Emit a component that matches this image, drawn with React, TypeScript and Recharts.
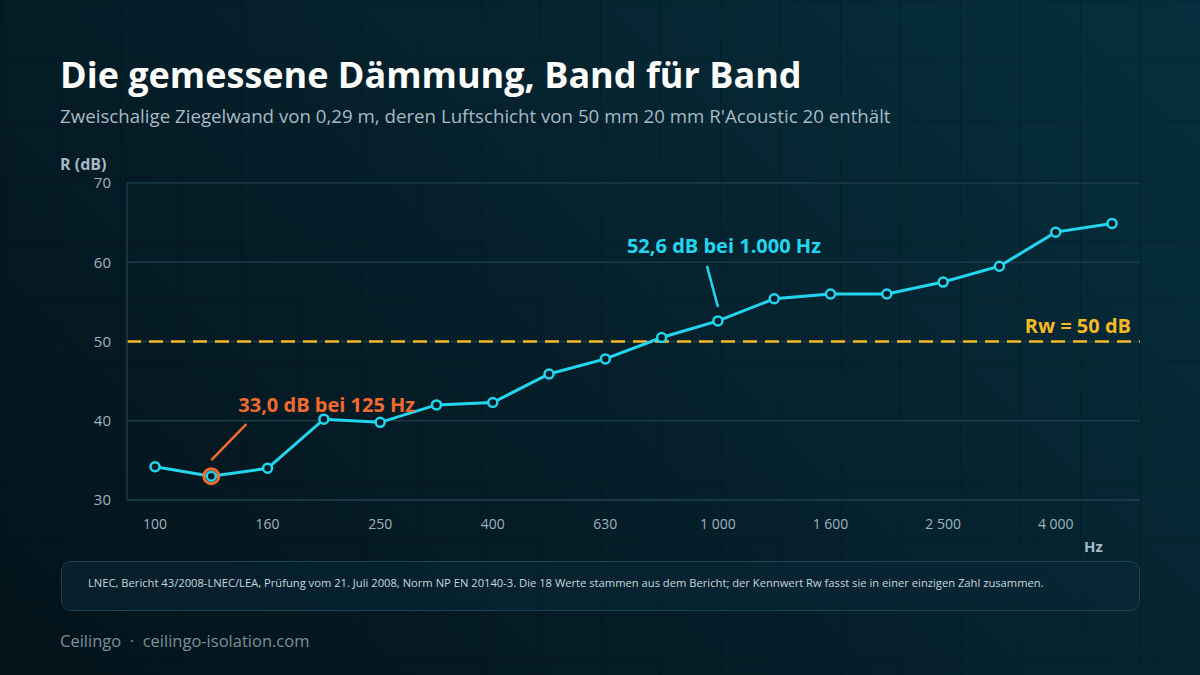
import React from 'react'
import {
  LineChart,
  Line,
  XAxis,
  YAxis,
  CartesianGrid,
  ReferenceLine,
} from 'recharts'

const bands = [
  '100', '125', '160', '200', '250', '315', '400', '500', '630',
  '800', '1 000', '1 250', '1 600', '2 000', '2 500', '3 150', '4 000', '5 000',
]
// measured sound reduction index R per band (dB)
const rValues = [
  34.2, 33.0, 34.0, 40.2, 39.8, 42.0, 42.3, 45.9, 47.8,
  50.5, 52.6, 55.4, 56.0, 56.0, 57.5, 59.5, 63.8, 64.9,
]
const yTicks = [30, 40, 50, 60, 70]
const rw = 50

const notes = [
  { index: 1, text: '33,0 dB bei 125 Hz' },
  { index: 10, text: '52,6 dB bei 1.000 Hz' },
]

const COLORS = {
  line: '#22d6ef',
  dotFill: '#061d27',
  rw: '#f4b828',
  grid: '#1a3b4a',
  tick: '#9fb3bf',
  orange: '#f06b2d',
}

const FONT = '"Open Sans", "Noto Sans", sans-serif'

const data = bands.map((band, i) => ({ band, r: rValues[i] }))

interface DotProps {
  cx?: number
  cy?: number
  index?: number
}

const renderDot = ({ cx = 0, cy = 0, index = 0 }: DotProps) => {
  const base = (
    <circle cx={cx} cy={cy} r={4.5} fill={COLORS.dotFill} stroke={COLORS.line} strokeWidth={2.5} />
  )
  if (index === notes[0].index) {
    return (
      <g key={`dot-${index}`}>
        <line x1={cx} y1={cy - 16} x2={cx + 35} y2={cy - 52} stroke={COLORS.orange} strokeWidth={2.5} />
        <text x={cx + 27} y={cy - 64} fill={COLORS.orange} fontSize={20} fontWeight={700} fontFamily={FONT}>
          {notes[0].text}
        </text>
        <circle cx={cx} cy={cy} r={7.5} fill="none" stroke={COLORS.orange} strokeWidth={3} />
        {base}
      </g>
    )
  }
  if (index === notes[1].index) {
    return (
      <g key={`dot-${index}`}>
        <line x1={cx - 11} y1={cy - 55} x2={cx} y2={cy - 14} stroke={COLORS.line} strokeWidth={2.5} />
        <text x={cx - 91} y={cy - 68} fill={COLORS.line} fontSize={20} fontWeight={700} fontFamily={FONT}>
          {notes[1].text}
        </text>
        {base}
      </g>
    )
  }
  return <g key={`dot-${index}`}>{base}</g>
}

interface RefLabelProps {
  viewBox?: { x?: number; y?: number; width?: number }
}

const RwLabel = ({ viewBox }: RefLabelProps) => {
  const x = (viewBox?.x ?? 0) + (viewBox?.width ?? 0) - 9
  const y = (viewBox?.y ?? 0) - 9
  return (
    <text x={x} y={y} textAnchor="end" fill={COLORS.rw} fontSize={20} fontWeight={700} fontFamily={FONT}>
      {`Rw = ${rw} dB`}
    </text>
  )
}

export default function App() {
  return (
    <div
      style={{
        position: 'fixed',
        left: 0,
        top: 0,
        width: 1200,
        height: 675,
        overflow: 'hidden',
        fontFamily: FONT,
        backgroundColor: '#05202b',
        backgroundImage:
          'linear-gradient(rgba(0,0,0,0.16) 1px, transparent 1px), linear-gradient(90deg, rgba(0,0,0,0.16) 1px, transparent 1px), linear-gradient(45deg, #03131a 0%, #05202b 50%, #052f3e 100%)',
        backgroundSize: '60px 60px, 60px 60px, 100% 100%',
      }}
    >
      <div style={{ position: 'absolute', left: 60, top: 50, color: '#ffffff', fontSize: 36, fontWeight: 700, whiteSpace: 'nowrap' }}>
        Die gemessene Dämmung, Band für Band
      </div>
      <div style={{ position: 'absolute', left: 60, top: 103, color: '#a6bac6', fontSize: 18.7, whiteSpace: 'nowrap' }}>
        Zweischalige Ziegelwand von 0,29 m, deren Luftschicht von 50 mm 20 mm R'Acoustic 20 enthält
      </div>
      <div style={{ position: 'absolute', left: 60, top: 153, color: '#a6bac6', fontSize: 16, fontWeight: 700 }}>
        R (dB)
      </div>
      <div style={{ position: 'absolute', left: 1084, top: 536, color: '#a6bac6', fontSize: 15, fontWeight: 700 }}>
        Hz
      </div>

      <div style={{ position: 'absolute', left: 0, top: 0 }}>
        <LineChart
          width={1200}
          height={675}
          data={data}
          margin={{ top: 183, right: 60, bottom: 145, left: 0 }}
        >
          <CartesianGrid vertical={false} stroke={COLORS.grid} strokeWidth={1.5} />
          <XAxis
            dataKey="band"
            height={30}
            interval={1}
            padding={{ left: 28, right: 28 }}
            tickLine={false}
            axisLine={{ stroke: COLORS.grid, strokeWidth: 1.5 }}
            tick={{ fill: COLORS.tick, fontSize: 14, fontFamily: FONT }}
            tickMargin={13}
          />
          <YAxis
            width={127}
            domain={[30, 70]}
            ticks={yTicks}
            tickLine={false}
            axisLine={{ stroke: COLORS.grid, strokeWidth: 1.5 }}
            tick={{ fill: COLORS.tick, fontSize: 15, fontFamily: FONT }}
            tickMargin={10}
          />
          <ReferenceLine
            y={rw}
            stroke={COLORS.rw}
            strokeWidth={2.5}
            strokeDasharray="14 8"
            label={<RwLabel />}
          />
          <Line
            type="linear"
            dataKey="r"
            stroke={COLORS.line}
            strokeWidth={3}
            dot={renderDot}
            activeDot={false}
            isAnimationActive={false}
          />
        </LineChart>
      </div>

      <div
        style={{
          position: 'absolute',
          left: 61,
          top: 561,
          width: 1079,
          height: 50,
          boxSizing: 'border-box',
          border: '1.5px solid #1d4252',
          borderRadius: 10,
          background: 'rgba(8, 40, 54, 0.55)',
          padding: '13px 0 0 26px',
          color: '#c9d6dd',
          fontSize: 11.2,
          whiteSpace: 'nowrap',
        }}
      >
        LNEC, Bericht 43/2008-LNEC/LEA, Prüfung vom 21. Juli 2008, Norm NP EN 20140-3. Die 18 Werte stammen aus dem Bericht; der Kennwert Rw fasst sie in einer einzigen Zahl zusammen.
      </div>
      <div style={{ position: 'absolute', left: 60, top: 629, color: '#7a909b', fontSize: 16.5, whiteSpace: 'pre' }}>
        {'Ceilingo  ·  ceilingo-isolation.com'}
      </div>
    </div>
  )
}
